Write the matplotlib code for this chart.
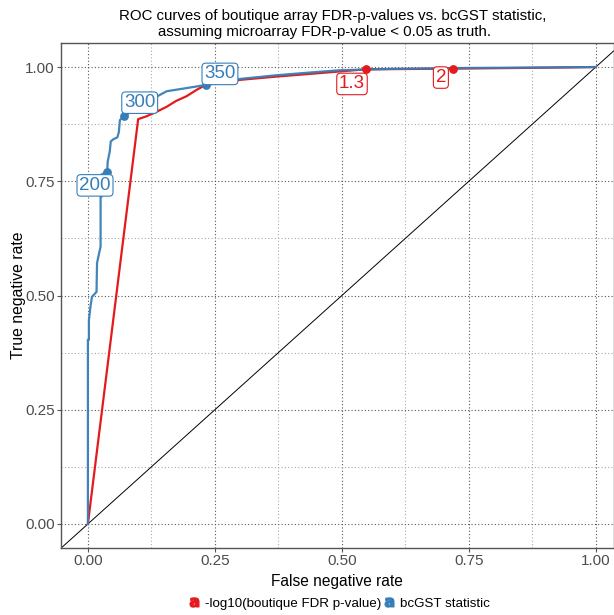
#!/usr/bin/env python3
"""ROC curves of boutique array FDR-p-values vs. bcGST statistic"""
import matplotlib
matplotlib.use("Agg")
import matplotlib.pyplot as plt
from matplotlib.lines import Line2D

plt.rcParams['font.family'] = ['Liberation Sans', 'DejaVu Sans']

RED = '#E41A1C'
BLUE = '#377EB8'

# red curve: -log10(boutique FDR p-value)
red_fpr = [0.0, 0.099, 0.115, 0.135, 0.155, 0.174, 0.194, 0.214, 0.232,
           0.30, 0.37, 0.437, 0.547, 0.719, 0.85, 1.0]
red_tpr = [0.0, 0.886, 0.892, 0.902, 0.913, 0.926, 0.936, 0.950, 0.961,
           0.972, 0.979, 0.985, 0.995, 0.9965, 0.998, 1.0]

# blue curve: bcGST statistic
blue_fpr = [0.0, 0.0, 0.002, 0.002, 0.005, 0.008, 0.017, 0.018, 0.022,
            0.025, 0.025, 0.027, 0.027, 0.038, 0.039, 0.043, 0.045, 0.050,
            0.058, 0.061, 0.063, 0.072, 0.100, 0.130, 0.155, 0.217, 0.232,
            0.30, 0.371, 0.437, 0.496, 0.60, 0.75, 0.90, 1.0]
blue_tpr = [0.0, 0.403, 0.403, 0.446, 0.475, 0.497, 0.508, 0.571, 0.592,
            0.607, 0.716, 0.716, 0.765, 0.771, 0.793, 0.815, 0.837, 0.842,
            0.846, 0.858, 0.884, 0.893, 0.912, 0.932, 0.947, 0.958, 0.961,
            0.974, 0.982, 0.988, 0.993, 0.996, 0.998, 0.999, 1.0]

# cutoff points and their labels
red_cut_x = [0.547, 0.719]
red_cut_y = [0.995, 0.9965]
red_cut_lab = ['1.3', '2']
red_lab_x = [0.520, 0.695]
red_lab_y = [0.963, 0.977]

blue_cut_x = [0.038, 0.072, 0.232]
blue_cut_y = [0.771, 0.893, 0.961]
blue_cut_lab = ['200', '300', '350']
blue_lab_x = [0.014, 0.102, 0.260]
blue_lab_y = [0.741, 0.922, 0.985]

title_lines = ['ROC curves of boutique array FDR-p-values vs. bcGST statistic,',
               'assuming microarray FDR-p-value < 0.05 as truth.']

fig = plt.figure(figsize=(6.14, 6.15), dpi=100)
ax = fig.add_axes([0.0993, 0.109, 0.9, 0.821])

ax.set_xlim(-0.053, 1.035)
ax.set_ylim(-0.0525, 1.0525)

# grid
ticks = [0, 0.25, 0.5, 0.75, 1.0]
minor = [0.125, 0.375, 0.625, 0.875]
ax.set_xticks(ticks)
ax.set_yticks(ticks)
ax.set_xticks(minor, minor=True)
ax.set_yticks(minor, minor=True)
ax.grid(which='major', color='#555555', linestyle=(0, (1, 2)), linewidth=0.8)
ax.grid(which='minor', color='#aaaaaa', linestyle=(0, (1, 2)), linewidth=0.8)
ax.set_axisbelow(True)
ax.tick_params(which='minor', length=0)
ax.tick_params(which='major', length=3, width=0.8, color='#555555', pad=1.5,
               labelsize=11, labelcolor='#4D4D4D')
ax.set_xticklabels(['0.00', '0.25', '0.50', '0.75', '1.00'])
ax.set_yticklabels(['0.00', '0.25', '0.50', '0.75', '1.00'])
for sp in ax.spines.values():
    sp.set_color('#555555')
    sp.set_linewidth(1.0)

ax.axline((0, 0), (1, 1), color='black', linewidth=0.7, zorder=2)

ax.plot(red_fpr, red_tpr, color=RED, linewidth=1.6, zorder=3)
ax.plot(blue_fpr, blue_tpr, color=BLUE, linewidth=1.6, alpha=0.95, zorder=4)
ax.scatter(red_cut_x, red_cut_y, color=RED, s=28, zorder=5)
ax.scatter(blue_cut_x, blue_cut_y, color=BLUE, s=28, zorder=5)

for x, y, t in zip(red_lab_x, red_lab_y, red_cut_lab):
    ax.text(x, y, t, color=RED, fontsize=13.5, ha='center', va='center', zorder=6,
            bbox=dict(boxstyle='round,pad=0.12,rounding_size=0.2', fc='white',
                      ec=RED, lw=0.8))
for x, y, t in zip(blue_lab_x, blue_lab_y, blue_cut_lab):
    ax.text(x, y, t, color=BLUE, fontsize=13.5, ha='center', va='center', zorder=6,
            bbox=dict(boxstyle='round,pad=0.12,rounding_size=0.2', fc='white',
                      ec=BLUE, lw=0.8))

fig.text(332.5 / 614, 0.968, title_lines[0], fontsize=10.8, ha='center',
         va='baseline')
fig.text(324.5 / 614, 0.942, title_lines[1], fontsize=10.8, ha='center',
         va='baseline')
ax.set_xlabel('False negative rate', fontsize=11.2, labelpad=4)
ax.set_ylabel('True negative rate', fontsize=11.3, va='center')
ax.yaxis.set_label_coords(-0.077, 0.5)

handles = [Line2D([], [], linestyle='none', marker=r'$\mathbf{a}$', color=RED,
                  markersize=6.5),
           Line2D([], [], linestyle='none', marker=r'$\mathbf{a}$', color=BLUE,
                  markersize=6.5)]
fig.legend(handles, ['-log10(boutique FDR p-value)', 'bcGST statistic'],
           loc='center', bbox_to_anchor=(0.551, 0.018), ncol=2, frameon=False,
           fontsize=9.6, handletextpad=0.3, columnspacing=0.1, handlelength=1.0)

fig.savefig('out.png', dpi=100)
